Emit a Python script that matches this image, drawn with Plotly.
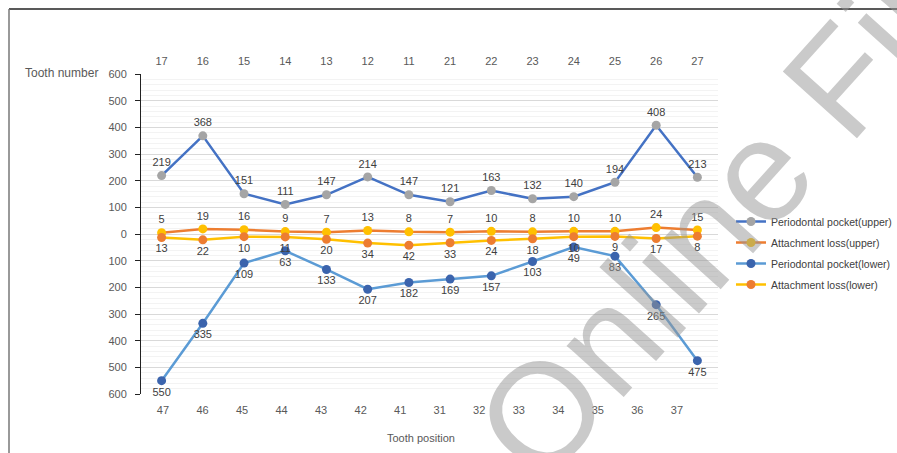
import plotly.graph_objects as go

# Tooth labels: upper jaw along the top axis, lower jaw along the bottom axis
upper_teeth = ["17", "16", "15", "14", "13", "12", "11", "21", "22", "23", "24", "25", "26", "27"]
lower_teeth = ["47", "46", "45", "44", "43", "42", "41", "31", "32", "33", "34", "35", "36", "37"]

# Counts per tooth
pocket_upper = [219, 368, 151, 111, 147, 214, 147, 121, 163, 132, 140, 194, 408, 213]
attach_upper = [5, 19, 16, 9, 7, 13, 8, 7, 10, 8, 10, 10, 24, 15]
pocket_lower = [550, 335, 109, 63, 133, 207, 182, 169, 157, 103, 49, 83, 265, 475]
attach_lower = [13, 22, 10, 11, 20, 34, 42, 33, 24, 18, 10, 9, 17, 8]

y_ticks = [-600, -500, -400, -300, -200, -100, 0, 100, 200, 300, 400, 500, 600]

W, H = 897, 453
ML, MR, MT, MB = 141, 179, 74, 59
PW, PH = W - ML - MR, H - MT - MB


def px(x):
    return (x - ML) / PW


def py(y):
    return 1 - (y - MT) / PH


pos = list(range(len(upper_teeth)))
FONT = "Liberation Sans, Arial, sans-serif"
label_font = dict(family=FONT, size=11, color="#404040")

fig = go.Figure()


def add_series(name, values, sign, line_color, marker_color, textpos):
    fig.add_trace(go.Scatter(
        x=pos,
        y=[sign * v for v in values],
        name=name,
        legendgroup=name,
        mode="lines+markers+text",
        text=[str(v) for v in values],
        textposition=textpos,
        textfont=label_font,
        line=dict(color=line_color, width=2.5),
        marker=dict(color=marker_color, size=9, line=dict(width=0)),
        cliponaxis=False,
    ))


add_series("Periodontal pocket(upper)", pocket_upper, 1, "#4472C4", "#A5A5A5", "top center")
add_series("Attachment loss(upper)", attach_upper, 1, "#ED7D31", "#FFC000", "top center")
add_series("Periodontal pocket(lower)", pocket_lower, -1, "#5B9BD5", "#3B64AD", "bottom center")
add_series("Attachment loss(lower)", attach_lower, -1, "#FFC000", "#ED7D31", "bottom center")

# carrier trace so the lower-tooth axis is drawn
fig.add_trace(go.Scatter(x=pos, y=[None] * len(pos), xaxis="x2", showlegend=False,
                         hoverinfo="skip", mode="markers"))

tick_font = dict(family=FONT, size=11, color="#595959")

fig.update_layout(
    width=W, height=H,
    margin=dict(l=ML, r=MR, t=MT, b=MB, autoexpand=False),
    paper_bgcolor="white", plot_bgcolor="white",
    showlegend=True,
    legend=dict(
        x=px(731), y=py(207), xanchor="left", yanchor="top",
        font=dict(family=FONT, size=10.5, color="#404040"),
        bgcolor="rgba(0,0,0,0)", itemwidth=30, tracegroupgap=2,
    ),
    xaxis=dict(
        side="top", range=[-0.5, 13.5],
        tickmode="array", tickvals=pos, ticktext=upper_teeth,
        showgrid=False, zeroline=False, showline=False, ticks="",
        tickfont=tick_font, ticklabelstandoff=6,
    ),
    xaxis2=dict(
        overlaying="x", side="bottom", anchor="y", range=[-0.556, 14.04],
        tickmode="array", tickvals=pos, ticktext=lower_teeth,
        showgrid=False, zeroline=False, showline=False, ticks="",
        tickfont=tick_font, ticklabelstandoff=8,
    ),
    yaxis=dict(
        range=[-600, 600],
        tickmode="array", tickvals=y_ticks, ticktext=[str(abs(v)) for v in y_ticks],
        showgrid=True, gridcolor="#D9D9D9", gridwidth=1,
        minor=dict(dtick=20, showgrid=True, gridcolor="#F3F3F3", gridwidth=1),
        zeroline=False, showline=True, linecolor="#222222", linewidth=1,
        ticks="outside", ticklen=5, tickcolor="#222222",
        tickfont=tick_font, ticklabelstandoff=6,
    ),
    annotations=[
        dict(text="Tooth number", x=px(61), y=py(73), xref="paper", yref="paper",
             xanchor="center", yanchor="middle",
             showarrow=False, font=dict(family=FONT, size=12, color="#595959")),
        dict(text="Tooth position", x=px(421), y=py(438), xref="paper", yref="paper",
             xanchor="center", yanchor="middle",
             showarrow=False, font=dict(family=FONT, size=11, color="#595959")),
        dict(text="Online First", x=px(752), y=py(180), xref="paper", yref="paper",
             xanchor="center", yanchor="middle",
             showarrow=False, textangle=-48,
             font=dict(family=FONT, size=145, color="rgba(150,150,150,0.5)")),
    ],
    shapes=[
        dict(type="line", xref="paper", yref="paper", x0=px(9), x1=px(897), y0=py(9), y1=py(9),
             line=dict(color="#222222", width=1.5)),
        dict(type="line", xref="paper", yref="paper", x0=px(9), x1=px(9), y0=py(9), y1=py(453),
             line=dict(color="#777777", width=1.5)),
    ],
)

fig.write_html("out.html")
